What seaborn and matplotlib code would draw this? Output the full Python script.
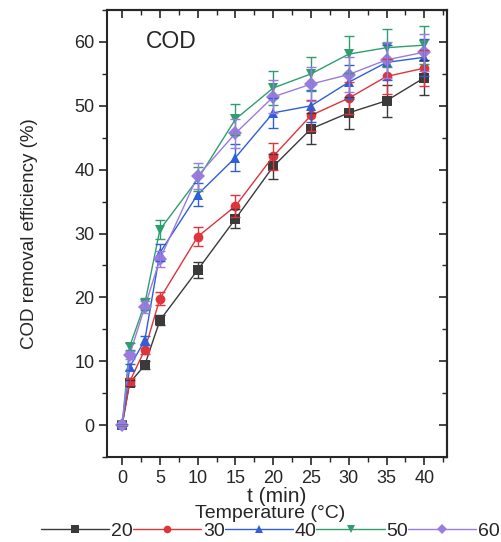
import numpy as np
import pandas as pd
import matplotlib
matplotlib.use("Agg")
import matplotlib.pyplot as plt
from matplotlib.ticker import MultipleLocator
from matplotlib.lines import Line2D
import seaborn as sns

t = [0, 1, 3, 5, 10, 15, 20, 25, 30, 35, 40]
temps = ["20", "30", "40", "50", "60"]
cod_20 = [0, 6.6, 9.4, 16.4, 24.3, 32.3, 40.5, 46.4, 48.9, 50.8, 54.4]
cod_30 = [0, 6.8, 11.8, 19.8, 29.5, 34.3, 42.1, 48.5, 51.2, 54.6, 55.9]
cod_40 = [0, 9.1, 13.3, 27.0, 36.1, 41.9, 48.9, 50.0, 53.7, 56.8, 57.6]
cod_50 = [0, 12.3, 19.0, 30.6, 38.5, 47.9, 52.8, 55.0, 58.1, 59.1, 59.5]
cod_60 = [0, 11.0, 18.5, 26.0, 39.0, 45.7, 51.4, 53.4, 54.9, 57.2, 58.4]
err_20 = [0, 0.5, 0.6, 0.8, 1.2, 1.5, 2.0, 2.4, 2.5, 2.5, 2.7]
err_30 = [0, 0.5, 0.7, 1.0, 1.5, 1.7, 2.1, 2.4, 2.5, 2.7, 2.8]
err_40 = [0, 0.5, 0.7, 1.3, 1.8, 2.1, 2.4, 2.5, 2.7, 2.8, 2.9]
err_50 = [0, 0.6, 0.9, 1.5, 1.9, 2.4, 2.6, 2.7, 2.9, 3.0, 3.0]
err_60 = [0, 0.6, 0.9, 1.3, 2.0, 2.3, 2.6, 2.7, 2.7, 2.8, 2.9]

series = [cod_20, cod_30, cod_40, cod_50, cod_60]
errs = [err_20, err_30, err_40, err_50, err_60]
colors = ["#3a3a3a", "#e0333a", "#2e5fd6", "#2f9e6e", "#9b7be0"]
markers = ["s", "o", "^", "v", "D"]

rows = []
for lab, vals, e in zip(temps, series, errs):
    for ti, v, ee in zip(t, vals, e):
        rows.append({"t": ti, "cod": v, "err": ee, "Temperature": lab})
df = pd.DataFrame(rows)

sns.set_style("ticks")
plt.rcParams['font.family'] = ['Liberation Sans', 'DejaVu Sans']

fig = plt.figure(figsize=(5.01, 5.42), dpi=100)
ax = fig.add_axes([0.2136, 0.1568, 0.6786, 0.8247])

palette = dict(zip(temps, colors))
sns.lineplot(data=df, x="t", y="cod", hue="Temperature", style="Temperature",
             palette=palette, markers=dict(zip(temps, markers)), dashes=False,
             markersize=7, markeredgewidth=0, linewidth=1.0, ax=ax, legend=False)
for lab, c in zip(temps, colors):
    sub = df[df["Temperature"] == lab]
    ax.errorbar(sub["t"], sub["cod"], yerr=sub["err"], fmt="none", ecolor=c,
                elinewidth=1.0, capsize=3.5, capthick=1.0)

ax.set_xlim(-2, 43)
ax.set_ylim(-5, 65)
ax.xaxis.set_major_locator(MultipleLocator(5))
ax.xaxis.set_minor_locator(MultipleLocator(2.5))
ax.yaxis.set_major_locator(MultipleLocator(10))
ax.yaxis.set_minor_locator(MultipleLocator(5))
ax.tick_params(axis="both", which="major", labelsize=13, length=6, width=1.2, pad=3)
ax.tick_params(axis="both", which="minor", length=3.5, width=1.0)
ax.tick_params(axis="y", which="both", direction="out", left=True, right=False)
ax.tick_params(axis="x", which="both", direction="out", bottom=True, top=False)
ax2 = ax.secondary_xaxis("top")
ax2.xaxis.set_major_locator(MultipleLocator(5))
ax2.xaxis.set_minor_locator(MultipleLocator(2.5))
ax2.tick_params(axis="x", which="major", direction="in", length=6, width=1.2, labeltop=False)
ax2.tick_params(axis="x", which="minor", direction="in", length=3.5, width=1.0)
ax3 = ax.secondary_yaxis("right")
ax3.yaxis.set_major_locator(MultipleLocator(10))
ax3.yaxis.set_minor_locator(MultipleLocator(5))
ax3.tick_params(axis="y", which="major", direction="in", length=6, width=1.2, labelright=False)
ax3.tick_params(axis="y", which="minor", direction="in", length=3.5, width=1.0)
for s in ax.spines.values():
    s.set_linewidth(1.5)
for s in list(ax2.spines.values()) + list(ax3.spines.values()):
    s.set_linewidth(1.5)

ax.set_xlabel("t (min)", fontsize=15, labelpad=0)
ax.set_ylabel("COD removal efficiency (%)", fontsize=13.5, labelpad=26)
ax.text(0.115, 0.93, "COD", transform=ax.transAxes, fontsize=16.5, va="center", ha="left")

handles = [Line2D([0], [0], color=c, marker=m, markersize=5.5, markeredgewidth=0, linewidth=1.0)
           for c, m in zip(colors, markers)]
leg = fig.legend(handles, temps, title="Temperature (°C)", loc="upper center",
                 bbox_to_anchor=(0.54, 0.068), ncol=5, frameon=False, fontsize=14,
                 title_fontsize=14, handlelength=3.5, handletextpad=0.1,
                 columnspacing=0.0, borderpad=0, labelspacing=0, borderaxespad=0)
leg._legend_box.sep = 0

fig.savefig("out.png", dpi=100)
